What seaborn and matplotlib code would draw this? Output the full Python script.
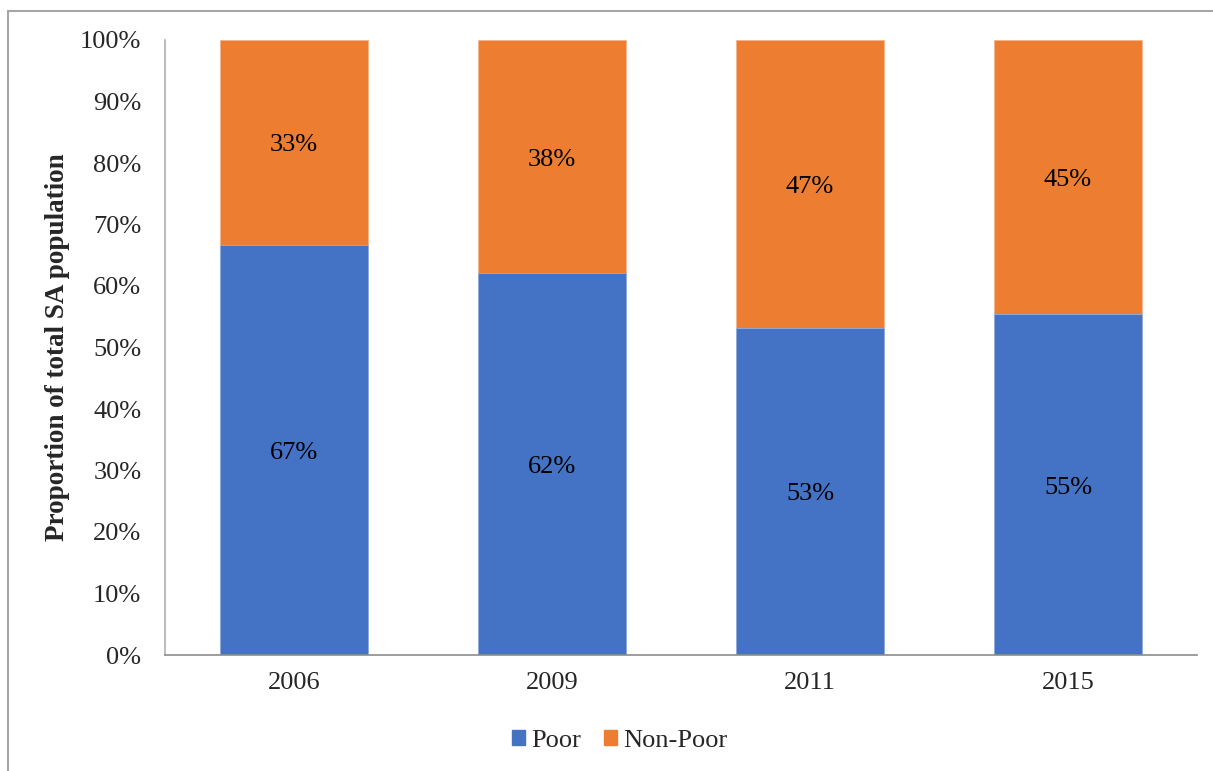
import matplotlib
matplotlib.use("Agg")
import matplotlib.pyplot as plt
import matplotlib.patches as mpatches
import matplotlib.lines as mlines
import seaborn as sns
import pandas as pd

years = ["2006", "2009", "2011", "2015"]
poor = [66.7, 62.1, 53.2, 55.4]
non_poor = [33.3, 37.9, 46.8, 44.6]
yticks = [0, 10, 20, 30, 40, 50, 60, 70, 80, 90, 100]

BLUE = "#4472C4"
ORANGE = "#ED7D31"

sns.set_theme(style="white")
plt.rcParams["font.family"] = ["Liberation Serif", "DejaVu Serif"]

df = pd.DataFrame({"year": years, "poor": poor, "non_poor": non_poor})
df["total"] = df["poor"] + df["non_poor"]

fig = plt.figure(figsize=(12.13, 7.71), dpi=100)
ax = fig.add_axes([165/1213, 1-655/771, (1197-165)/1213, (655-40)/771])

sns.barplot(data=df, x="year", y="total", color=ORANGE, saturation=1, width=0.57,
            ax=ax, edgecolor="#f6b48a", linewidth=0.6)
sns.barplot(data=df, x="year", y="poor", color=BLUE, saturation=1, width=0.57,
            ax=ax, edgecolor="#8fb0e6", linewidth=0.6)

fs = 19
for i, (p, n) in enumerate(zip(poor, non_poor)):
    ax.text(i, p / 2 - 0.5, f"{round(p):d}%", ha="center", va="center", fontsize=fs, color="black")
    ax.text(i, p + n / 2 - 0.5, f"{round(n):d}%", ha="center", va="center", fontsize=fs, color="black")

ax.set_xlim(-0.5, 3.5)
ax.set_ylim(0, 100)
ax.set_yticks(yticks)
ax.set_yticklabels([f"{v}%" for v in yticks], fontsize=fs)
ax.tick_params(axis="y", length=0, pad=17)
ax.tick_params(axis="x", length=0, pad=12, labelsize=fs)
ax.set_xlabel("")
ax.set_ylabel("Proportion of total SA population", fontsize=19.5, fontweight="bold")
ax.yaxis.set_label_coords(-0.092, 0.5)

for s in ["top", "right"]:
    ax.spines[s].set_visible(False)
ax.spines["left"].set_color("#b0b0b0")
ax.spines["bottom"].set_color("#8c8c8c")
ax.spines["left"].set_linewidth(1.2)
ax.spines["bottom"].set_linewidth(1.2)

handles = [mpatches.Patch(color=BLUE, label="Poor"),
           mpatches.Patch(color=ORANGE, label="Non-Poor")]
fig.legend(handles=handles, loc="center", bbox_to_anchor=(0.511, 1-741/771), ncol=2,
           frameon=False, fontsize=fs, handlelength=0.5, handleheight=0.5,
           handletextpad=0.25, columnspacing=0.85)

# figure border
fig.add_artist(mlines.Line2D([8/1213, 8/1213], [0, 1-11/771], transform=fig.transFigure,
                             color="#a6a6a6", lw=1.5))
fig.add_artist(mlines.Line2D([8/1213, 1], [1-11/771, 1-11/771], transform=fig.transFigure,
                             color="#a6a6a6", lw=1.5))

fig.savefig("out.png", dpi=100)
